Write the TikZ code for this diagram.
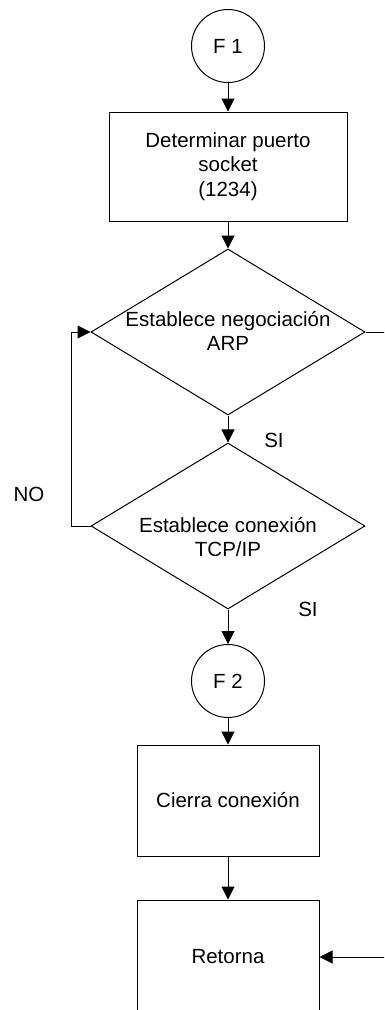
\documentclass[tikz,border=0pt]{standalone}
\usepackage{fontspec}
\setmainfont{Liberation Sans}
\usetikzlibrary{arrows.meta,shapes.geometric}
\begin{document}
\begin{tikzpicture}[x=1pt,y=-1pt,
  line width=1pt,
  every node/.style={font=\fontsize{20.5}{24.5}\selectfont},
  flow/.style={draw,-{Triangle[length=13pt,width=13pt]}},
  connector/.style={draw,circle,minimum size=73pt,inner sep=0pt},
  process/.style={draw,rectangle,inner sep=0pt,align=center},
  decision/.style={draw,diamond,inner sep=0pt,minimum width=274pt,minimum height=166pt},
  txt/.style={align=center,inner sep=0pt}]
\useasboundingbox (0,0) rectangle (384,1010);
\clip (0,0) rectangle (384,1010);

% off-page connectors and processes
\node[connector] (f1) at (228,46) {F 1};
\node[process, minimum width=238pt, minimum height=109pt] (b1) at (228,166.5)
  {Determinar puerto\\socket\\(1234)};

% decisions
\node[decision] (d1) at (228,332) {};
\node[txt] (t1) at (228,331) {Establece negociación\\ARP};
\node[decision] (d2) at (228,526) {};
\node[txt] (t2) at (228,537) {Establece conexión\\TCP/IP};

\node[connector] (f2) at (228,681) {F 2};
\node[process, minimum width=182pt, minimum height=111pt] (b2) at (228,800.5) {Cierra conexión};
\node[process, minimum width=182pt, minimum height=114pt] (b3) at (228,957) {Retorna};

% branch labels
\node (si1) at (274,440) {SI};
\node (si2) at (308,609) {SI};
\node (no) at (29,494) {NO};

% main flow
\draw[flow] (f1) -- (b1);
\draw[flow] (b1) -- (d1);
\draw[flow] (d1) -- (d2);
\draw[flow] (d2) -- (f2);
\draw[flow] (f2) -- (b2);
\draw[flow] (b2) -- (b3);

% retry loop and exit path
\draw[flow] (d2.west) -- ++(-19,0) |- (d1.west);
\draw[flow] (d1.east) -- ++(40,0) |- (b3.east);
\end{tikzpicture}
\end{document}
